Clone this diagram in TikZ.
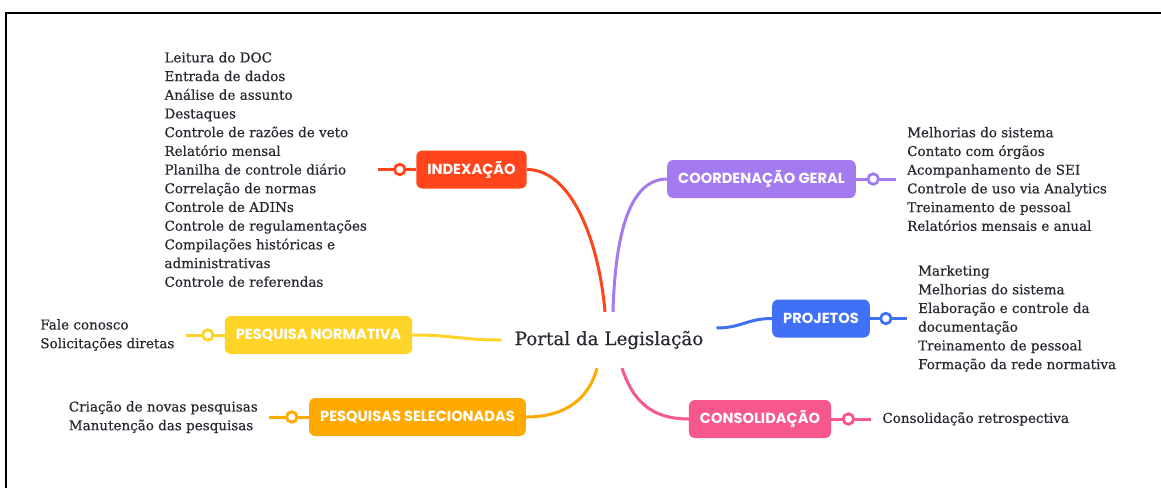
\documentclass[tikz,border=0pt]{standalone}
\usepackage{fontspec}
\setmainfont{DejaVu Serif}[FakeBold=0.5]
\newfontfamily\rotulo{Poppins}
\usepackage{tikz}
\usetikzlibrary{positioning}

\definecolor{texto}{RGB}{40,40,50}
\definecolor{corIdx}{RGB}{255,69,28}
\definecolor{corCoord}{RGB}{163,122,240}
\definecolor{corPN}{RGB}{255,212,40}
\definecolor{corProj}{RGB}{64,112,246}
\definecolor{corPS}{RGB}{255,170,0}
\definecolor{corCons}{RGB}{246,88,140}

\tikzset{
  caixa/.style={rectangle, rounded corners=6pt, fill=#1, text=white,
    minimum height=38pt, inner xsep=11pt,
    font=\rotulo\bfseries\fontsize{14.6}{14.6}\selectfont},
  itens/.style={align=left, text=texto, inner xsep=11pt, inner ysep=0pt,
    font=\fontsize{13.5}{18.7}\selectfont},
  ramo/.style={line width=3pt, draw=#1},
  bolinha/.style={circle, draw=#1, fill=white, line width=2.8pt,
    minimum size=10.5pt, inner sep=0pt}
}

\begin{document}
\begin{tikzpicture}[x=1pt,y=-1pt]
  \useasboundingbox (0,0) rectangle (1161,488);
  \fill[white] (0,0) rectangle (1161,488);
  \draw[line width=2pt] (6,488) -- (6,12.5) -- (1161,12.5);

  % centro
  \node[text=texto, font=\fontsize{18.3}{18.3}\selectfont, inner xsep=13pt,
    minimum height=56pt] (portal) at (609,340) {Portal da Legislação};

  % ramos principais
  \node[caixa=corIdx] (indexacao) at (471.5,169.5) {INDEXAÇÃO};
  \node[caixa=corCoord] (coordenacao) at (761.5,179) {COORDENAÇÃO GERAL};
  \node[caixa=corPN] (pesqnorm) at (318.5,335) {PESQUISA NORMATIVA};
  \node[caixa=corProj] (projetos) at (821,318.5) {PROJETOS};
  \node[caixa=corPS] (pesqsel) at (417.5,417) {PESQUISAS SELECIONADAS};
  \node[caixa=corCons] (consolidacao) at (760,419) {CONSOLIDAÇÃO};

  % listas
  \node[itens, left=38pt of indexacao] (idx-itens) {Leitura do DOC\\
    Entrada de dados\\ Análise de assunto\\ Destaques\\
    Controle de razões de veto\\ Relatório mensal\\
    Planilha de controle diário\\ Correlação de normas\\
    Controle de ADINs\\ Controle de regulamentações\\
    Compilações históricas e\\ administrativas\\
    Controle de referendas};
  \node[itens, right=40pt of coordenacao] (coord-itens) {Melhorias do sistema\\
    Contato com órgãos\\ Acompanhamento de SEI\\
    Controle de uso via Analytics\\ Treinamento de pessoal\\
    Relatórios mensais e anual};
  \node[itens, left=39pt of pesqnorm] (pn-itens) {Fale conosco\\
    Solicitações diretas};
  \node[itens, right=37pt of projetos] (proj-itens) {Marketing\\
    Melhorias do sistema\\ Elaboração e controle da\\ documentação\\
    Treinamento de pessoal\\ Formação da rede normativa};
  \node[itens, left=40pt of pesqsel] (ps-itens) {Criação de novas pesquisas\\
    Manutenção das pesquisas};
  \node[itens, right=40pt of consolidacao] (cons-itens) {Consolidação retrospectiva};

  % ligacoes ao centro
  \draw[ramo=corIdx] (indexacao.east) .. controls +(45,0) and +(-6,-70) .. ([xshift=-4pt]portal.north);
  \draw[ramo=corCoord] (coordenacao.west) .. controls +(-40,0) and +(2,-70) .. ([xshift=4pt]portal.north);
  \draw[ramo=corPN] (pesqnorm.east) .. controls +(40,0) and +(-40,0) .. (portal.west);
  \draw[ramo=corProj] (projetos.west) .. controls +(-25,0) and +(25,0) .. ([yshift=12pt]portal.east);
  \draw[ramo=corPS] (pesqsel.east) .. controls +(40,0) and +(-8,30) .. ([xshift=-12pt]portal.south);
  \draw[ramo=corCons] (consolidacao.west) .. controls +(-40,0) and +(10,30) .. ([xshift=13pt]portal.south);

  % ligacoes as listas
  \draw[ramo=corIdx] (indexacao.west) -- (idx-itens.east) node[bolinha=corIdx, pos=0.43] {};
  \draw[ramo=corCoord] (coordenacao.east) -- (coord-itens.west) node[bolinha=corCoord, pos=0.43] {};
  \draw[ramo=corPN] (pesqnorm.west) -- (pn-itens.east) node[bolinha=corPN, pos=0.43] {};
  \draw[ramo=corProj] (projetos.east) -- (proj-itens.west) node[bolinha=corProj, pos=0.43] {};
  \draw[ramo=corPS] (pesqsel.west) -- (ps-itens.east) node[bolinha=corPS, pos=0.43] {};
  \draw[ramo=corCons] (consolidacao.east) -- (cons-itens.west) node[bolinha=corCons, pos=0.43] {};
\end{tikzpicture}
\end{document}
